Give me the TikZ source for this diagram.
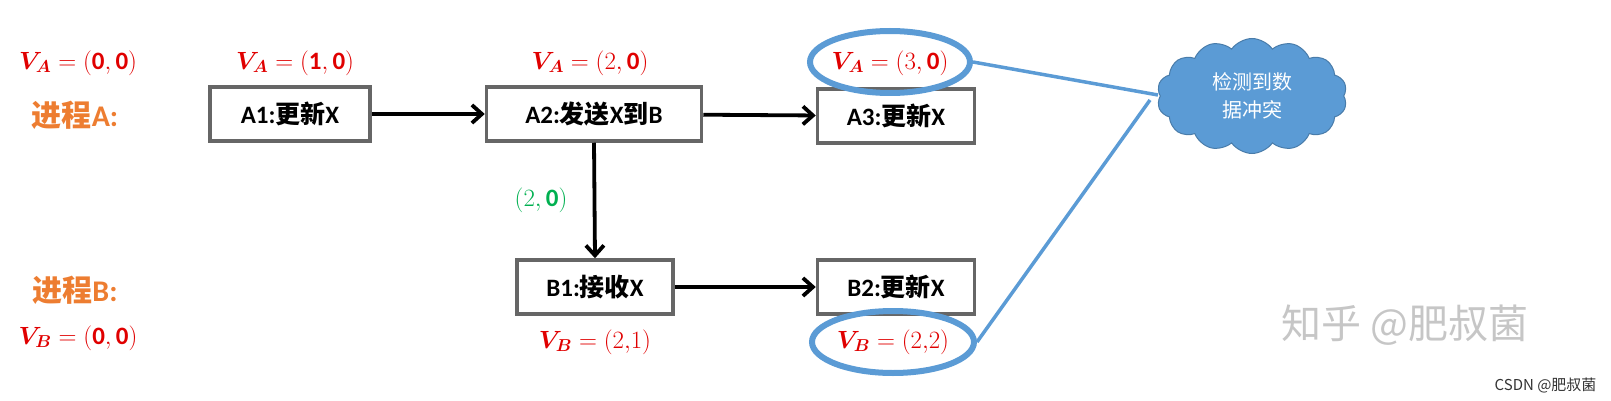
\documentclass[tikz,border=0pt]{standalone}
\usepackage{fontspec}
\usepackage{amsmath,bm}
\setmainfont{Carlito}
\newfontfamily\cjk{Noto Sans CJK SC}
\usetikzlibrary{shapes.symbols,shapes.geometric,arrows.meta}
\definecolor{vred}{HTML}{E00000}
\definecolor{vgreen}{HTML}{00B050}
\definecolor{porg}{HTML}{ED7D31}
\definecolor{lblue}{HTML}{5B9BD5}
\begin{document}
\begin{tikzpicture}[x=1pt,y=-1pt,
 box/.style={draw=gray!80!black,line width=3.5pt,minimum height=54pt,inner sep=0pt,font=\fontsize{25}{27}\selectfont\bfseries},
 arr/.style={-{Straight Barb[length=10pt,width=18pt]},line width=3.8pt},
 vl/.style={text=vred,font=\fontsize{25}{27}\selectfont},
 proc/.style={text=porg,font=\fontsize{30}{32}\selectfont\bfseries},
 ell/.style={draw=lblue,line width=6pt,ellipse},
 conn/.style={draw=lblue,line width=3.5pt}]
\useasboundingbox (0,0) rectangle (1611,401);
\node[box,minimum width=160pt] (a1) at (290,114) {A1:{\cjk\bfseries 更新}X};
\node[box,minimum width=215pt] (a2) at (594,114) {A2:{\cjk\bfseries 发送}X{\cjk\bfseries 到}B};
\node[box,minimum width=157pt] (a3) at (896,116) {A3:{\cjk\bfseries 更新}X};
\node[box,minimum width=156pt] (b1) at (595,287) {B1:{\cjk\bfseries 接收}X};
\node[box,minimum width=157pt] (b2) at (896,287) {B2:{\cjk\bfseries 更新}X};
\draw[arr] (a1) -- (a2);
\draw[arr] (a2) -- (a3);
\draw[arr] (a2.south) -- (b1.north);
\draw[arr] (b1) -- (b2);
\node[vl] (va0) at (78,63) {$\bm{V_A}=(\mathbf{0},\mathbf{0})$};
\node[vl] (va1) at (295,63) {$\bm{V_A}=(\mathbf{1},\mathbf{0})$};
\node[vl] (va2) at (590,63) {$\bm{V_A}=(2,\mathbf{0})$};
\node[vl] (va3) at (890,63) {$\bm{V_A}=(3,\mathbf{0})$};
\node[vl,text=vgreen] (g) at (541,200) {$(2,\mathbf{0})$};
\node[vl] (vb1) at (595,342) {$\bm{V_B}=(2{,}1)$};
\node[vl] (vb2) at (893,342) {$\bm{V_B}=(2{,}2)$};
\node[vl] (vb0) at (78,338) {$\bm{V_B}=(\mathbf{0},\mathbf{0})$};
\node[proc] (pa) at (75,115) {{\cjk\bfseries 进程}A:};
\node[proc] (pb) at (75,290) {{\cjk\bfseries 进程}B:};
\node[ell,minimum width=160pt,minimum height=62pt] (e1) at (890,62) {};
\node[ell,minimum width=162pt,minimum height=62pt] (e2) at (893,342) {};
\node[cloud,cloud puffs=14,cloud puff arc=110,aspect=1.7,fill=lblue,draw=lblue!80!black,line width=1pt,
 minimum width=190pt,minimum height=115pt,text=white,align=center,font=\cjk\fontsize{20}{28}\selectfont] (c) at (1252,96) {检测到数\\据冲突};
\draw[conn] (e1.east) -- (1158,95);
\draw[conn] (e2.east) -- (1150,100);
\node[text=gray!45,font=\cjk\fontsize{40}{44}\selectfont] (w1) at (1405,325) {知乎 @肥叔菌};
\node[text=black!80,font=\cjk\fontsize{15}{16}\selectfont,anchor=east] (w2) at (1600,385) {CSDN @肥叔菌};
\end{tikzpicture}
\end{document}
